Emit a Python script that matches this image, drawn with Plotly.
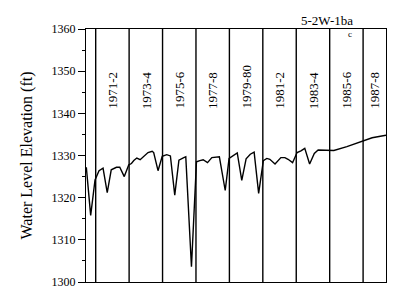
import plotly.graph_objects as go

# Data (years as decimal, water level elevation in ft)
years = [1970.44, 1970.70, 1970.96, 1971.20, 1971.44, 1971.69, 1971.93, 1972.24, 1972.44, 1972.71,
         1972.98, 1973.14, 1973.28, 1973.46, 1973.66, 1973.87, 1974.13, 1974.38, 1974.47, 1974.73,
         1974.98, 1975.25, 1975.47, 1975.73, 1975.98, 1976.27, 1976.39, 1976.73, 1977.03, 1977.23,
         1977.43, 1977.69, 1977.95, 1978.40, 1978.75, 1978.98, 1979.23, 1979.47, 1979.74, 1980.00,
         1980.25, 1980.48, 1980.75, 1981.03, 1981.24, 1981.42, 1981.73, 1982.08, 1982.32, 1982.51,
         1982.78, 1983.05, 1983.28, 1983.51, 1983.80, 1984.08, 1984.31, 1985.25, 1986.03, 1987.00,
         1987.54, 1988.37]
levels = [1327.2, 1315.8, 1324.2, 1326.4, 1327.0, 1321.2, 1326.6, 1327.2, 1327.2, 1325.0,
          1327.8, 1328.1, 1328.8, 1329.4, 1329.0, 1329.8, 1330.7, 1331.0, 1330.7, 1326.4,
          1329.8, 1330.2, 1329.9, 1320.6, 1328.9, 1329.5, 1329.7, 1303.6, 1328.5, 1328.8,
          1329.0, 1328.3, 1329.5, 1329.7, 1321.7, 1329.3, 1330.0, 1330.6, 1324.1, 1329.2,
          1330.3, 1330.8, 1321.0, 1328.8, 1329.3, 1329.1, 1328.0, 1329.5, 1329.5, 1329.1,
          1328.3, 1330.7, 1331.1, 1331.7, 1328.0, 1330.5, 1331.3, 1331.2, 1332.1, 1333.4,
          1334.2, 1334.8]

period_starts = [1971, 1973, 1975, 1977, 1979, 1981, 1983, 1985, 1987]
period_labels = ["1971-2", "1973-4", "1975-6", "1977-8", "1979-80", "1981-2", "1983-4", "1985-6", "1987-8"]

x_range = [1970.42, 1988.37]
y_range = [1300, 1360]
y_ticks = [1300, 1310, 1320, 1330, 1340, 1350, 1360]

SERIF = "Liberation Serif"

fig = go.Figure()
fig.add_trace(go.Scatter(x=years, y=levels, mode="lines",
                         line=dict(color="black", width=1.4), showlegend=False,
                         hoverinfo="skip"))

for s in period_starts:
    fig.add_shape(type="line", xref="x", yref="paper", x0=s, x1=s, y0=0, y1=1,
                  line=dict(color="black", width=1.4))

for s, lab in zip(period_starts, period_labels):
    xc = (s + x_range[1]) / 2 if s + 2 > x_range[1] else s + 1
    fig.add_annotation(x=xc, y=1340.6, xref="x", yref="y", text=lab, textangle=-90,
                       showarrow=False, yanchor="bottom", xanchor="center",
                       font=dict(family=SERIF, size=13, color="black"))

W, H = 400, 301
pl, pr, pt, pb = 86, 14, 29, 14
pw, ph = W - pl - pr, H - pt - pb

def px(x):
    return (x - pl) / pw

def py(y):
    return 1 - (y - pt) / ph

fig.add_annotation(x=px(354), y=py(12), xref="paper", yref="paper", text="5-2W-1ba",
                   showarrow=False, borderpad=0,
                   font=dict(family=SERIF, size=13, color="#000000"))
fig.add_annotation(x=px(353), y=py(28), xref="paper", yref="paper", text="c",
                   showarrow=False, borderpad=0,
                   font=dict(family=SERIF, size=9, color="#000000"))

fig.update_layout(
    width=400, height=301,
    margin=dict(l=86, r=14, t=29, b=14),
    paper_bgcolor="white", plot_bgcolor="white",
    font=dict(family=SERIF, color="black"),
    xaxis=dict(range=x_range, showgrid=False, zeroline=False, showticklabels=False,
               ticks="", showline=True, linecolor="black", linewidth=1, mirror=True),
    yaxis=dict(range=y_range, tickvals=y_ticks, showgrid=False, zeroline=False,
               ticks="outside", ticklen=7, tickcolor="black", tickwidth=1,
               minor=dict(dtick=5, ticklen=3, ticks="outside", tickcolor="black"),
               showline=True, linecolor="black", linewidth=1, mirror=True,
               tickfont=dict(family=SERIF, size=12, color="black"),
               title=dict(text="Water Level Elevation (ft)", standoff=14,
                          font=dict(family=SERIF, size=16, color="black"))),
)

fig.write_html("out.html")
